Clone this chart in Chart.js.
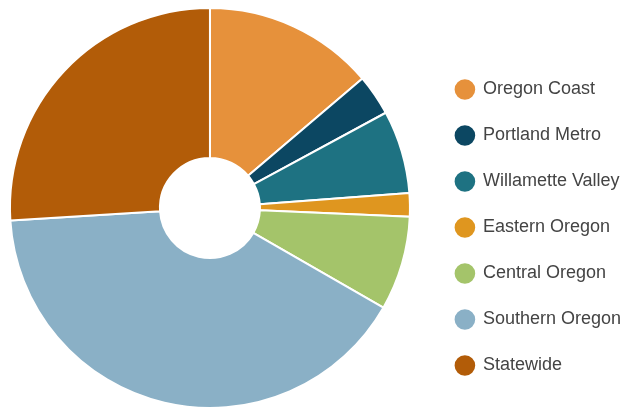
<!DOCTYPE html>
<html>
<head>
<meta charset="utf-8">
<script src="https://cdn.jsdelivr.net/npm/chart.js@4/dist/chart.umd.min.js"></script>
<style>
html,body{margin:0;padding:0;background:#fff;overflow:hidden;}
#c{display:block;margin-left:-8px;}
</style>
</head>
<body>
<canvas id="c" width="639" height="410"></canvas>
<script>
const regions = ["Oregon Coast", "Portland Metro", "Willamette Valley", "Eastern Oregon", "Central Oregon", "Southern Oregon", "Statewide"];
const shares = [13.8, 3.3, 6.7, 1.9, 7.6, 40.7, 26.0];
const sliceColors = ["#E6913B", "#0C4762", "#1E7282", "#DF961F", "#A4C46A", "#8AB0C6", "#B25C08"];

new Chart(document.getElementById('c'), {
  type: 'doughnut',
  data: {
    labels: regions,
    datasets: [{
      data: shares,
      backgroundColor: sliceColors,
      borderColor: '#ffffff',
      borderWidth: 2,
      hoverOffset: 0
    }]
  },
  options: {
    responsive: false,
    animation: false,
    cutout: '25%',
    layout: { padding: { left: 0, right: 0, top: 7, bottom: 1 } },
    plugins: {
      tooltip: { enabled: false },
      legend: {
        position: 'right',
        title: { display: true, text: ' ', padding: 0, font: { size: 39, lineHeight: 1 } },
        labels: {
          usePointStyle: true,
          pointStyle: 'circle',
          boxWidth: 18,
          boxHeight: 16,
          padding: 28,
          color: '#444444',
          font: { family: '"Liberation Sans", Arial, sans-serif', size: 18 }
        }
      }
    }
  }
});
</script>
</body>
</html>
